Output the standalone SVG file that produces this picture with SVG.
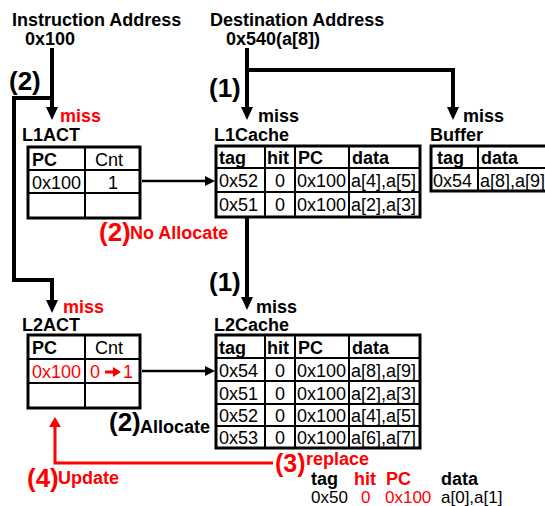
<svg xmlns="http://www.w3.org/2000/svg" width="545" height="506" viewBox="0 0 545 506">
<style>
text{font-family:"Liberation Sans",Arial,sans-serif;fill:#000}
.b{font-weight:bold;font-size:18px}
.t{font-size:18px}
.th{font-weight:bold;font-size:18px}
.big{font-weight:bold;font-size:26px}
.s{font-size:17px}
.red{fill:#ff0000}
.tbl rect{fill:#fff;stroke:#000;stroke-width:3}
.tbl line{stroke:#000;stroke-width:2}
.thick{fill:none;stroke:#000;stroke-width:4}
.thin{fill:none;stroke:#000;stroke-width:2.5}
.redl{fill:none;stroke:#ff0000;stroke-width:3}
</style>
<defs>
<marker id="ah" viewBox="0 0 13 12" refX="1" refY="6" markerWidth="13" markerHeight="12" markerUnits="userSpaceOnUse" orient="auto"><path d="M0,0 L13,6 L0,12 z" fill="#000"/></marker>
<marker id="as" viewBox="0 0 10 10" refX="1" refY="5" markerWidth="10" markerHeight="10" markerUnits="userSpaceOnUse" orient="auto"><path d="M0,0 L10,5 L0,10 z" fill="#000"/></marker>
<marker id="ar" viewBox="0 0 10 12" refX="1" refY="6" markerWidth="10" markerHeight="12" markerUnits="userSpaceOnUse" orient="auto"><path d="M0,0 L10,6 L0,12 z" fill="#ff0000"/></marker>
</defs>

<g id="instruction-address">
<text class="b" x="12" y="26">Instruction Address</text>
<text class="b" x="25" y="45">0x100</text>
</g>
<g id="destination-address">
<text class="b" x="210" y="26">Destination Address</text>
<text class="b" x="226" y="45">0x540(a[8])</text>
</g>

<g id="connectors">
<path class="thick" d="M52,48 V108" marker-end="url(#ah)"/>
<path class="thick" d="M52,98 H14 V280 H52 V301" marker-end="url(#ah)"/>
<path class="thick" d="M247,48 V108" marker-end="url(#ah)"/>
<path class="thick" d="M247,70 H453 V108" marker-end="url(#ah)"/>
<path class="thick" d="M247,217 V298" marker-end="url(#ah)"/>
<path class="thin" d="M142,181 H206" marker-end="url(#as)"/>
<path class="thin" d="M142,371 H206" marker-end="url(#as)"/>
<path class="redl" d="M273,463 H55 V426" marker-end="url(#ar)"/>
<text class="big" x="9" y="90">(2)</text>
<text class="b red" x="60" y="122">miss</text>
<text class="big" x="209" y="97">(1)</text>
<text class="b" x="258" y="122">miss</text>
<text class="b" x="463" y="122">miss</text>
<text class="big red" x="99" y="241">(2)</text>
<text class="b red" x="130" y="239">No Allocate</text>
<text class="b red" x="63" y="313">miss</text>
<text class="big" x="209" y="291">(1)</text>
<text class="b" x="256" y="313">miss</text>
<text class="big" x="109" y="431">(2)</text>
<text class="b" x="140" y="433">Allocate</text>
<text class="big red" x="27" y="487">(4)</text>
<text class="b red" x="58" y="484">Update</text>
<text class="big red" x="275" y="472" style="font-size:25px">(3)</text>
<text class="b red" x="306" y="465">replace</text>
</g>

<g id="L1ACT" class="tbl">
<text class="b" x="22" y="141">L1ACT</text>
<rect x="28" y="147" width="112" height="71"/>
<line x1="85" y1="147" x2="85" y2="218"/>
<line x1="28" y1="170" x2="140" y2="170"/>
<line x1="28" y1="193" x2="140" y2="193"/>
<text class="th" x="32" y="166">PC</text>
<text class="t" x="95" y="166">Cnt</text>
<text class="t" x="32" y="189">0x100</text>
<text class="t" x="108" y="189">1</text>
</g>

<g id="L1Cache" class="tbl">
<text class="b" x="214" y="141">L1Cache</text>
<rect x="216" y="146" width="204" height="71"/>
<line x1="265" y1="146" x2="265" y2="217"/>
<line x1="295" y1="146" x2="295" y2="217"/>
<line x1="349" y1="146" x2="349" y2="217"/>
<line x1="216" y1="168" x2="420" y2="168"/>
<line x1="216" y1="192" x2="420" y2="192"/>
<text class="th" x="219" y="164">tag</text>
<text class="th" x="267" y="164">hit</text>
<text class="th" x="298" y="164">PC</text>
<text class="th" x="352" y="164">data</text>
<text class="t" x="219" y="187">0x52</text>
<text class="t" x="275" y="187">0</text>
<text class="t" x="297" y="187">0x100</text>
<text class="t" x="351" y="187">a[4],a[5]</text>
<text class="t" x="219" y="211">0x51</text>
<text class="t" x="275" y="211">0</text>
<text class="t" x="297" y="211">0x100</text>
<text class="t" x="351" y="211">a[2],a[3]</text>
</g>

<g id="Buffer" class="tbl">
<text class="b" x="430" y="141">Buffer</text>
<rect x="431" y="146" width="130" height="45"/>
<line x1="478" y1="146" x2="478" y2="191"/>
<line x1="431" y1="168" x2="561" y2="168"/>
<text class="th" x="437" y="164">tag</text>
<text class="th" x="481" y="164">data</text>
<text class="t" x="433" y="187">0x54</text>
<text class="t" x="480" y="187">a[8],a[9]</text>
</g>

<g id="L2ACT" class="tbl">
<text class="b" x="22" y="331">L2ACT</text>
<rect x="28" y="335" width="112" height="73"/>
<line x1="85" y1="335" x2="85" y2="408"/>
<line x1="28" y1="359" x2="140" y2="359"/>
<line x1="28" y1="383" x2="140" y2="383"/>
<text class="th" x="32" y="354">PC</text>
<text class="t" x="95" y="354">Cnt</text>
<text class="t red" x="32" y="378">0x100</text>
<text class="t red" x="90" y="378">0</text>
<line x1="105" y1="372" x2="114" y2="372" style="stroke:#ff0000;stroke-width:3"/>
<path d="M113,367 L121,372 L113,377 z" fill="#ff0000"/>
<text class="t red" x="123" y="378">1</text>
</g>

<g id="L2Cache" class="tbl">
<text class="b" x="214" y="331">L2Cache</text>
<rect x="216" y="335" width="204" height="113"/>
<line x1="265" y1="335" x2="265" y2="448"/>
<line x1="295" y1="335" x2="295" y2="448"/>
<line x1="349" y1="335" x2="349" y2="448"/>
<line x1="216" y1="358" x2="420" y2="358"/>
<line x1="216" y1="381" x2="420" y2="381"/>
<line x1="216" y1="404" x2="420" y2="404"/>
<line x1="216" y1="426" x2="420" y2="426"/>
<text class="th" x="219" y="354">tag</text>
<text class="th" x="267" y="354">hit</text>
<text class="th" x="298" y="354">PC</text>
<text class="th" x="352" y="354">data</text>
<text class="t" x="219" y="377">0x54</text>
<text class="t" x="275" y="377">0</text>
<text class="t" x="297" y="377">0x100</text>
<text class="t" x="351" y="377">a[8],a[9]</text>
<text class="t" x="219" y="400">0x51</text>
<text class="t" x="275" y="400">0</text>
<text class="t" x="297" y="400">0x100</text>
<text class="t" x="351" y="400">a[2],a[3]</text>
<text class="t" x="219" y="422">0x52</text>
<text class="t" x="275" y="422">0</text>
<text class="t" x="297" y="422">0x100</text>
<text class="t" x="351" y="422">a[4],a[5]</text>
<text class="t" x="219" y="444">0x53</text>
<text class="t" x="275" y="444">0</text>
<text class="t" x="297" y="444">0x100</text>
<text class="t" x="351" y="444">a[6],a[7]</text>
</g>

<g id="replaced-entry">
<text class="th" x="311" y="485">tag</text>
<text class="th red" x="354" y="485">hit</text>
<text class="th red" x="386" y="485">PC</text>
<text class="th" x="441" y="485">data</text>
<text class="t s" x="311" y="503">0x50</text>
<text class="t s red" x="361" y="503">0</text>
<text class="t s red" x="385" y="503">0x100</text>
<text class="t s" x="441" y="503">a[0],a[1]</text>
</g>
</svg>
